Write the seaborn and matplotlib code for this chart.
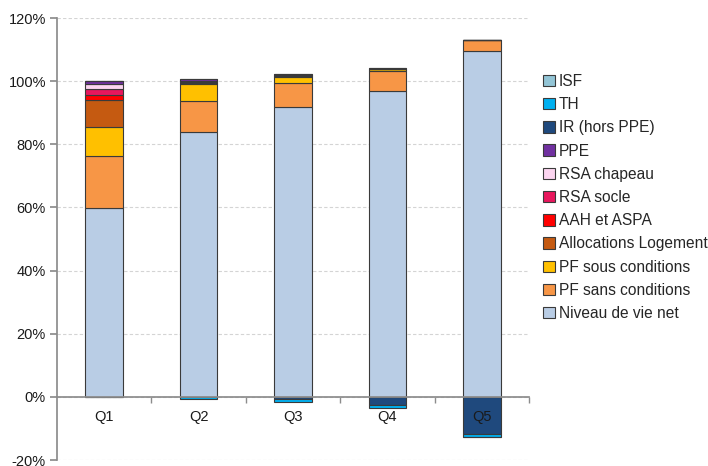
import numpy as np
import pandas as pd
import matplotlib
matplotlib.use("Agg")
import matplotlib.pyplot as plt
import seaborn as sns
from matplotlib.patches import Patch
from matplotlib.ticker import FuncFormatter, FixedLocator

quintiles = ["Q1", "Q2", "Q3", "Q4", "Q5"]

# stack order, bottom to top (values in % of disposable income)
series = ["Niveau de vie net", "PF sans conditions", "PF sous conditions",
          "Allocations Logement", "AAH et ASPA", "RSA socle", "RSA chapeau",
          "PPE", "IR (hors PPE)", "TH", "ISF"]

niveau_vie = [59.9, 83.9, 91.7, 97.0, 109.5]
pf_sans = [16.5, 9.9, 7.6, 6.1, 3.6]
pf_sous = [9.1, 5.2, 2.1, 0.6, 0.0]
alloc_logement = [8.6, 0.3, 0.3, 0.2, 0.0]
aah_aspa = [1.6, 0.1, 0.0, 0.0, 0.0]
rsa_socle = [1.9, 0.2, 0.0, 0.0, 0.0]
rsa_chapeau = [1.4, 0.3, 0.1, 0.0, 0.0]
ppe = [1.0, 0.9, 0.4, 0.3, 0.0]
ir = [0.0, -0.1, -0.6, -2.5, -11.9]
th = [-0.1, -0.7, -1.1, -1.0, -0.8]
isf = [0.0, 0.0, 0.0, 0.0, -0.1]

colors = ["#b9cde5", "#f79646", "#ffc000", "#c55a11", "#ff0000", "#e8175d",
          "#fcd5f0", "#7030a0", "#1f497d", "#00b0f0", "#93c5d6"]

values = [niveau_vie, pf_sans, pf_sous, alloc_logement, aah_aspa, rsa_socle,
          rsa_chapeau, ppe, ir, th, isf]

sns.set_theme(style="white")
plt.rcParams["font.family"] = ["Liberation Sans", "DejaVu Sans"]

fig = plt.figure(figsize=(7.08, 4.66), dpi=100)
ax = fig.add_axes([57 / 708, 1 - 460 / 466, (529 - 57) / 708, (460 - 18) / 466])

pos_base = np.zeros(len(quintiles))
neg_base = np.zeros(len(quintiles))
for name, vals, col in zip(series, values, colors):
    v = np.array(vals, dtype=float)
    bottom = np.where(v >= 0, pos_base, neg_base)
    df = pd.DataFrame({"q": quintiles, "v": v})
    sns.barplot(data=df, x="q", y="v", color=col, bottom=bottom, width=0.4,
                edgecolor="#3a3a3a", linewidth=0.8, saturation=1, ax=ax, zorder=3)
    pos_base += np.where(v >= 0, v, 0)
    neg_base += np.where(v < 0, v, 0)

ax.set_ylim(-20, 120)
ax.set_xlim(-0.5, 4.5)
ax.set_yticks(np.arange(-20, 121, 20))
ax.yaxis.set_major_formatter(FuncFormatter(lambda y, _: f"{y:.0f}%"))
ax.grid(axis="y", color="#d4d4d4", linestyle=(0, (3, 2)), linewidth=0.8, zorder=0)
ax.set_xlabel("")
ax.set_ylabel("")

for s in ["top", "right"]:
    ax.spines[s].set_visible(False)
ax.spines["left"].set_color("#8c8c8c")
ax.spines["bottom"].set_color("#8c8c8c")
ax.spines["bottom"].set_position(("data", 0))
ax.spines["bottom"].set_zorder(4)

ax.tick_params(axis="y", left=True, length=5, color="#8c8c8c", labelsize=10.5,
               labelcolor="#1a1a1a", pad=3)
ax.tick_params(axis="x", bottom=False, labelbottom=False)
ax.xaxis.set_minor_locator(FixedLocator([0.5, 1.5, 2.5, 3.5, 4.5]))
ax.tick_params(axis="x", which="minor", bottom=True, length=4, color="#8c8c8c")

# category labels sit just under the zero line, drawn over the negative bars
for i, q in enumerate(quintiles):
    ax.text(i, -6.3, q, ha="center", va="center", fontsize=10.5, color="#1a1a1a", zorder=10)

handles = [Patch(facecolor=c, edgecolor="#3a3a3a", linewidth=0.8, label=n)
           for n, c in zip(series, colors)][::-1]
fig.legend(handles=handles, loc="center left", bbox_to_anchor=(543 / 708, 1 - 197.5 / 466),
           frameon=False, fontsize=11.2, handlelength=0.75, handleheight=0.75,
           handletextpad=0.25, labelspacing=0.53, borderpad=0, borderaxespad=0)

fig.savefig("out.png", dpi=100)
